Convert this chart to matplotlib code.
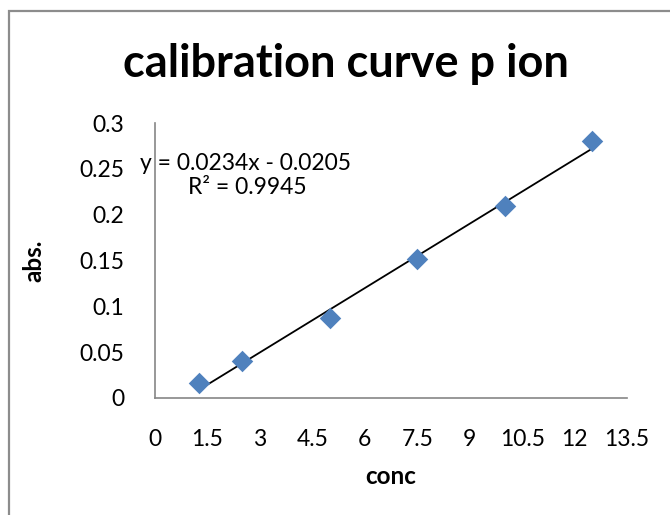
import matplotlib
matplotlib.use("Agg")
import matplotlib.pyplot as plt
import numpy as np
from matplotlib.patches import Rectangle

conc = [1.25, 2.5, 5.0, 7.5, 10.0, 12.5]
absorb = [0.0165, 0.0405, 0.087, 0.152, 0.210, 0.280]
slope, intercept = 0.0234, -0.0205
x_ticks = [0, 1.5, 3, 4.5, 6, 7.5, 9, 10.5, 12, 13.5]
x_tick_labels = ["0", "1.5", "3", "4.5", "6", "7.5", "9", "10.5", "12", "13.5"]
y_ticks = [0, 0.05, 0.1, 0.15, 0.2, 0.25, 0.3]
y_tick_labels = ["0", "0.05", "0.1", "0.15", "0.2", "0.25", "0.3"]
title = "calibration curve p ion"
eq_text = "y = 0.0234x - 0.0205"
r2_text = "R² = 0.9945"

plt.rcParams['font.family'] = ['Lato', 'DejaVu Sans']
W, H = 670, 515
fig = plt.figure(figsize=(W/100, H/100), dpi=100)
fig.patches.append(Rectangle((9/W, -0.1), 1.2, 1 - 11/H + 0.1, transform=fig.transFigure,
                             fill=False, edgecolor='#8c8c8c', linewidth=1.6))

ax = fig.add_axes([155/W, 1 - 398/H, (627-155)/W, (398-123)/H])
ax.set_xlim(0, 13.5)
ax.set_ylim(0, 0.3)
for s in ['top', 'right']:
    ax.spines[s].set_visible(False)
for s in ['left', 'bottom']:
    ax.spines[s].set_color('#868686')
    ax.spines[s].set_linewidth(1.2)
ax.set_xticks(x_ticks)
ax.set_xticklabels(x_tick_labels)
ax.set_yticks(y_ticks)
ax.set_yticklabels(y_tick_labels)
ax.tick_params(axis='x', length=0, labelsize=16.5, pad=22)
ax.tick_params(axis='y', length=0, labelsize=16.5, pad=22)

xl = np.array([conc[0], conc[-1]])
ax.plot(xl, slope*xl + intercept, color='black', linewidth=1.3, zorder=2)
ax.scatter(conc, absorb, marker='D', s=120, color='#4F81BD', zorder=3, linewidths=0)

fig.text(346/W, 1 - 77/H, title, ha='center', va='baseline', fontsize=32.5, fontweight='bold')
fig.text(140/W, 1 - 163/H, eq_text, ha='left', va='center', fontsize=16.5)
fig.text(188/W, 1 - 188/H, r2_text, ha='left', va='center', fontsize=16.5)
ax.set_xlabel("conc", fontsize=17.5, fontweight='bold', labelpad=11)
fig.text(34/W, 1 - 261/H, "abs.", rotation=90, ha='center', va='center', fontsize=17.5, fontweight='bold')

fig.savefig("out.png", dpi=100)
